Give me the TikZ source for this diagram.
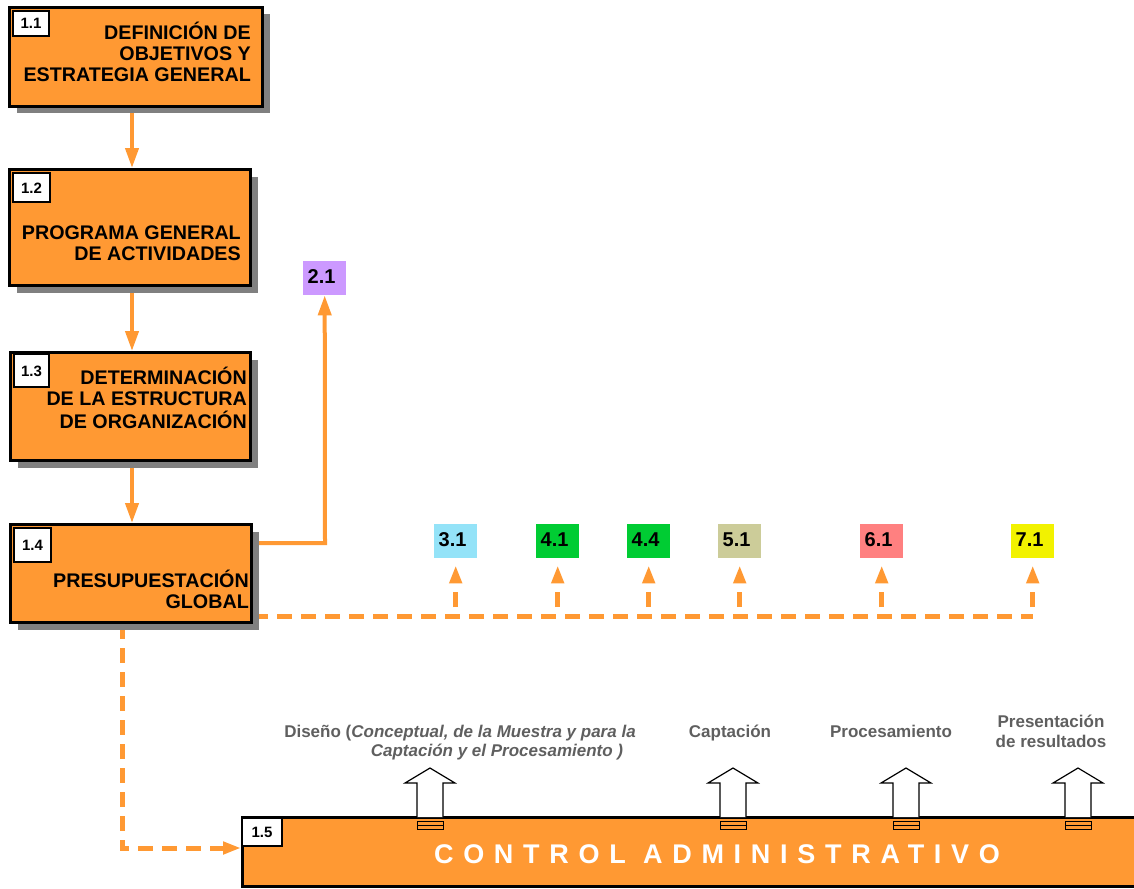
\documentclass[tikz,border=0pt]{standalone}
\usepackage{fontspec}
\setmainfont{Liberation Sans}
\usetikzlibrary{arrows.meta,shadows,backgrounds,calc}
\definecolor{org}{HTML}{FF9933}
\definecolor{shgray}{HTML}{808080}
\definecolor{lblgray}{HTML}{5F5F5F}
\definecolor{c21}{HTML}{CC99FF}
\definecolor{c31}{HTML}{94E3F8}
\definecolor{c41}{HTML}{00CC33}
\definecolor{c51}{HTML}{CCCC99}
\definecolor{c61}{HTML}{FF8080}
\definecolor{c71}{HTML}{F2F200}
\begin{document}
\begin{tikzpicture}[x=1pt,y=-1pt,
  mainbox/.style={draw=black, line width=3pt, fill=org, anchor=north west, inner sep=0pt,
    general shadow={fill=shgray, shadow xshift=7pt, shadow yshift=-7pt}},
  lblbox/.style={draw=black, line width=2pt, fill=white, anchor=north west, inner sep=0pt,
    font=\fontsize{15}{15}\selectfont\bfseries, text height=11pt, text depth=0pt},
  boxtext/.style={inner sep=0pt, anchor=base east, font=\fontsize{19.7}{21}\selectfont\bfseries},
  numbox/.style={anchor=north west, minimum width=43pt, minimum height=34pt, inner xsep=4.5pt,
    inner ysep=0pt, text width=34pt, align=left, text height=14pt, text depth=4pt,
    font=\fontsize{20}{20}\selectfont\bfseries},
  glabel/.style={inner sep=0pt, text=lblgray, font=\fontsize{17}{20}\selectfont\bfseries},
  sline/.style={draw=org, line width=4pt, -{Triangle[length=20pt,width=13pt]}},
  dline/.style={draw=org, line width=5pt, dash pattern=on 15pt off 9pt},
  darrow/.style={dline, -{Triangle[length=18pt,width=12pt]}},
  hollow/.style={draw=black, line width=1.2pt, fill=white},
  slot/.style={draw=black, line width=1pt, fill=org}
]
\useasboundingbox (0,0) rectangle (1134,888);

% main boxes
\node[mainbox, minimum width=253pt, minimum height=99pt] (b11) at (8,6) {};
\node[mainbox, minimum width=241pt, minimum height=116pt] (b12) at (8,168) {};
\node[mainbox, minimum width=240pt, minimum height=108pt] (b13) at (9,351) {};
\node[mainbox, minimum width=241pt, minimum height=98pt] (b14) at (9,523) {};
\node[draw=black, line width=3pt, fill=org, anchor=north west, inner sep=0pt,
      minimum width=950pt, minimum height=69pt] (b15) at (241,816) {};

% label boxes
\node[lblbox, minimum width=36pt, minimum height=25pt] (l11) at (12,10) {1.1};
\node[lblbox, minimum width=37pt, minimum height=29pt] (l12) at (12,172) {1.2};
\node[lblbox, minimum width=35pt, minimum height=33pt] (l13) at (13,353) {1.3};
\node[lblbox, minimum width=37pt, minimum height=34pt] (l14) at (13,527) {1.4};
\node[lblbox, minimum width=40pt, minimum height=28pt] (l15) at (241,817) {1.5};

% box texts
\node[boxtext] (t11) at (251,40) {\begin{tabular}[t]{@{}r@{}}DEFINICIÓN DE\\OBJETIVOS Y\\ESTRATEGIA GENERAL\end{tabular}};
\node[boxtext] (t12) at (241,239) {\begin{tabular}[t]{@{}r@{}}PROGRAMA GENERAL\\DE ACTIVIDADES\end{tabular}};
\node[boxtext] (t13) at (247,384) {\begin{tabular}[t]{@{}r@{}}DETERMINACIÓN\\DE LA ESTRUCTURA\\DE ORGANIZACIÓN\end{tabular}};
\node[boxtext] (t14) at (249,587) {\begin{tabular}[t]{@{}r@{}}PRESUPUESTACIÓN\\GLOBAL\end{tabular}};

% numbered target boxes
\node[numbox, fill=c21] (n21) at (303,261) {2.1};
\node[numbox, fill=c31] (n31) at (434,524) {3.1};
\node[numbox, fill=c41] (n41) at (536,524) {4.1};
\node[numbox, fill=c41] (n44) at (627,524) {4.4};
\node[numbox, fill=c51] (n51) at (718,524) {5.1};
\node[numbox, fill=c61] (n61) at (860,524) {6.1};
\node[numbox, fill=c71] (n71) at (1011,524) {7.1};

% control text
\node[inner sep=0pt, text=white, anchor=base,
      font=\fontsize{27}{27}\selectfont\bfseries\addfontfeature{LetterSpace=36}] (ctrl) at (717,863) {CONTROL ADMINISTRATIVO};

% gray labels
\node[glabel, anchor=base] (ldis1) at (460,737) {Diseño (\textit{Conceptual, de la Muestra y para la}};
\node[glabel, anchor=base] (ldis2) at (497,756) {\textit{Captación y el Procesamiento )}};
\node[glabel, anchor=base] (lcap) at (730,737) {Captación};
\node[glabel, anchor=base] (lproc) at (891,737) {Procesamiento};
\node[glabel, anchor=base] (lpres) at (1051,727) {\begin{tabular}[t]{@{}c@{}}Presentación\\de resultados\end{tabular}};

% hollow arrows and slots
\foreach \cx in {430,733,906,1078}{
  \draw[hollow] (\cx-13,817) -- (\cx-13,783) -- (\cx-25,783) -- (\cx,768) -- (\cx+25,783) -- (\cx+13,783) -- (\cx+13,817);
  \draw[slot] (\cx-13,821) rectangle (\cx+13,829);
  \draw[black, line width=1pt] (\cx-13,825) -- (\cx+13,825);
}

% connectors
\coordinate (colx) at (132,0);
\coordinate (j21) at (325,543);
\coordinate (hlend) at (1033,616);
\coordinate (jc) at (122,848);
\begin{scope}[on background layer]
\draw[sline] (b11.south -| colx) -- (b12.north -| colx);
\draw[sline] (b12.south -| colx) -- (b13.north -| colx);
\draw[sline] (b13.south -| colx) -- (b14.north -| colx);
\draw[sline] (b14.east |- j21) -- (j21) -- (n21.south);
\draw[dline] (b14.east |- hlend) -- (hlend);
\foreach \n in {n31,n41,n44,n51,n61,n71}{
  \draw[darrow, dash phase=15pt, shorten >=7pt] (\n.south |- hlend) -- (\n.south);
}
\draw[darrow] (b14.south -| jc) -- (jc) -- (b15.west |- jc);
\end{scope}
\end{tikzpicture}
\end{document}
